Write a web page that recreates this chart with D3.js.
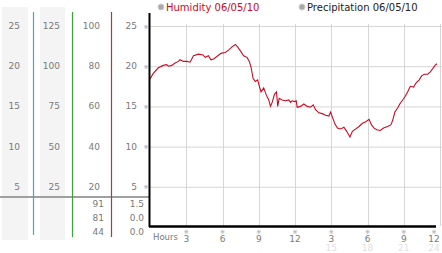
<!DOCTYPE html>
<html><head><meta charset="utf-8">
<script src="https://cdn.jsdelivr.net/npm/d3@7/dist/d3.min.js"></script>
<style>
html,body{margin:0;padding:0;background:#fff;}
svg{display:block;font-family:"DejaVu Sans",Verdana,sans-serif;}
</style></head>
<body>
<svg id="c" width="442" height="253"></svg>
<script>
// ---- data ----
const hours = [0,0.27,0.69,1.10,1.39,1.52,1.80,2.08,2.35,2.49,2.77,3.05,3.32,3.60,4.01,4.38,4.57,4.84,5.04,5.26,5.54,5.87,6.23,6.50,6.79,7.06,7.25,7.48,7.75,8.03,8.22,8.36,8.53,8.72,8.91,9.05,9.19,9.41,9.63,9.83,9.97,10.11,10.30,10.47,10.57,10.69,10.94,11.21,11.49,11.63,11.77,11.96,12.10,12.18,12.46,12.73,13.01,13.29,13.51,13.70,13.98,14.26,14.53,14.81,14.95,15.09,15.31,15.51,15.78,16.05,16.28,16.55,16.75,17.03,17.30,17.58,17.86,18.13,18.33,18.55,18.77,19.05,19.33,19.66,19.93,20.07,20.27,20.49,20.71,20.91,21.10,21.32,21.54,21.82,22.01,22.28,22.48,22.70,22.98,23.20,23.40,23.59,23.75];
const humidity = [18.4,19.1,19.8,20.1,20.2,20.0,20.1,20.4,20.6,20.8,20.6,20.6,20.5,21.3,21.5,21.4,21.1,21.3,20.8,20.9,21.2,21.6,21.7,22.0,22.4,22.7,22.4,21.9,21.3,21.1,20.6,19.9,18.5,18.1,18.3,17.5,16.8,17.3,16.4,15.8,15.0,15.5,16.5,16.8,15.0,16.0,15.8,15.7,15.8,15.5,15.7,15.6,15.7,14.9,15.0,15.3,15.0,14.9,15.2,14.6,14.2,14.1,13.9,13.8,14.3,13.7,12.8,12.3,12.2,12.4,11.9,11.2,11.9,12.2,12.5,12.9,13.1,13.4,12.7,12.3,12.1,12.0,12.3,12.5,12.7,13.2,14.3,14.8,15.4,15.8,16.2,16.8,17.5,17.4,17.9,18.3,18.8,19.0,19.0,19.3,19.7,20.1,20.3];
const yTicks = [5,10,15,20,25];
const col1Labels = ["5","10","15","20","25"];
const col2Labels = ["25","50","75","100","125"];
const col3Labels = ["20","40","60","80","100"];
const col4Labels = ["5","10","15","20","25"];
const col3Bottom = ["91","81","44"];
const col4Bottom = ["1.5","0.0","0.0"];
const xTicks = [3,6,9,12,15,18,21,24];
const xTickLabels = ["3","6","9","12","3","6","9","12"];
const xTickLabels2 = ["","","","","15","18","21","24"];
const legendLabels = ["Humidity 06/05/10","Precipitation 06/05/10"];

// ---- scales ----
const x = d3.scaleLinear().domain([0,24]).range([150,440]);
const y = d3.scaleLinear().domain([0,25]).range([227,26]);
const rowY = d3.scaleLinear().domain([0,2]).range([204,232]);

const svg = d3.select("#c");

// left panel backgrounds
[[2,28],[40,65]].forEach(([a,b])=>{
  svg.append("rect").attr("x",a).attr("y",7).attr("width",b-a).attr("height",233).attr("fill","#f4f4f4");
});

// separator
svg.append("line").attr("x1",0).attr("x2",149).attr("y1",197).attr("y2",197)
  .attr("stroke","#a0a0a0").attr("stroke-width",2);

// coloured vertical lines
[[33,235,"#3fa9c9"],[72,237,"#3aa63a"],[111,237,"#b8333f"]].forEach(([lx,ly,c])=>{
  svg.append("line").attr("x1",lx+0.5).attr("x2",lx+0.5).attr("y1",12).attr("y2",ly)
    .attr("stroke",c).attr("stroke-width",1.2);
});

const labelStyle = s => s.attr("font-size","9px").attr("fill","#7a7a7a").attr("dominant-baseline","central");

function col(labels, rx){
  svg.append("g").selectAll("text").data(labels).join("text")
    .attr("x",rx).attr("y",(d,i)=>y(yTicks[i])).attr("text-anchor","end").text(d=>d).call(labelStyle);
}
col(col1Labels,20); col(col2Labels,60); col(col3Labels,100); col(col4Labels,137);

function bottomCol(labels, rx){
  svg.append("g").selectAll("text").data(labels).join("text")
    .attr("x",rx).attr("y",(d,i)=>rowY(i)).attr("text-anchor","end").text(d=>d).call(labelStyle);
}
bottomCol(col3Bottom,104); bottomCol(col4Bottom,144);

// gridlines
svg.append("g").selectAll("line").data(yTicks).join("line")
  .attr("x1",150).attr("x2",442).attr("y1",d=>y(d)+0.5).attr("y2",d=>y(d)+0.5)
  .attr("stroke","#d6d6d6").attr("stroke-width",1);
svg.append("g").selectAll("line").data(xTicks).join("line")
  .attr("x1",d=>Math.round(x(d))+0.5).attr("x2",d=>Math.round(x(d))+0.5).attr("y1",24).attr("y2",226)
  .attr("stroke","#d6d6d6").attr("stroke-width",1);

// tiny tick marks
svg.append("g").selectAll("text").data(yTicks).join("text")
  .attr("x",146).attr("y",d=>y(d)).attr("text-anchor","middle").attr("dominant-baseline","central")
  .attr("font-size","6px").attr("fill","#999").text("※");
svg.append("g").selectAll("text").data(xTicks).join("text")
  .attr("x",(d)=>Math.min(x(d),434)).attr("y",231).attr("text-anchor","middle").attr("dominant-baseline","central")
  .attr("font-size","6px").attr("fill","#999").text("※");

// humidity line
const line = d3.line().x((d,i)=>x(hours[i])).y(d=>y(d));
svg.append("path").datum(humidity).attr("d",line).attr("fill","none")
  .attr("stroke","#cc0a22").attr("stroke-width",1.1);

// axes (black)
svg.append("line").attr("x1",149.5).attr("x2",149.5).attr("y1",13).attr("y2",227)
  .attr("stroke","#000").attr("stroke-width",2);
svg.append("line").attr("x1",149).attr("x2",436).attr("y1",226.5).attr("y2",226.5)
  .attr("stroke","#000").attr("stroke-width",2.5);

// x labels
svg.append("text").attr("x",153).attr("y",237).attr("font-size","8.5px").attr("fill","#7a7a7a")
  .attr("dominant-baseline","central").text("Hours");
svg.append("g").selectAll("text").data(xTickLabels).join("text")
  .attr("x",(d,i)=>Math.min(x(xTicks[i]),434)).attr("y",238.5).attr("text-anchor","middle")
  .attr("dominant-baseline","central").attr("font-size","9px").attr("fill","#7a7a7a").text(d=>d);
svg.append("g").selectAll("text").data(xTickLabels2).join("text")
  .attr("x",(d,i)=>Math.min(x(xTicks[i]),434)).attr("y",247.5).attr("text-anchor","middle")
  .attr("dominant-baseline","central").attr("font-size","9px").attr("fill","#e2e2e2").text(d=>d);

// legend
const legX = [161,302], legC = ["#cc0a22","#222"];
legendLabels.forEach((t,i)=>{
  svg.append("circle").attr("cx",legX[i]).attr("cy",7).attr("r",3).attr("fill","#aaa").attr("stroke","#ccc").attr("stroke-width",1);
  svg.append("text").attr("x",legX[i]+5).attr("y",7.5).attr("dominant-baseline","central")
    .attr("font-size","10px").attr("fill",legC[i]).text(t);
});
</script>
</body></html>
